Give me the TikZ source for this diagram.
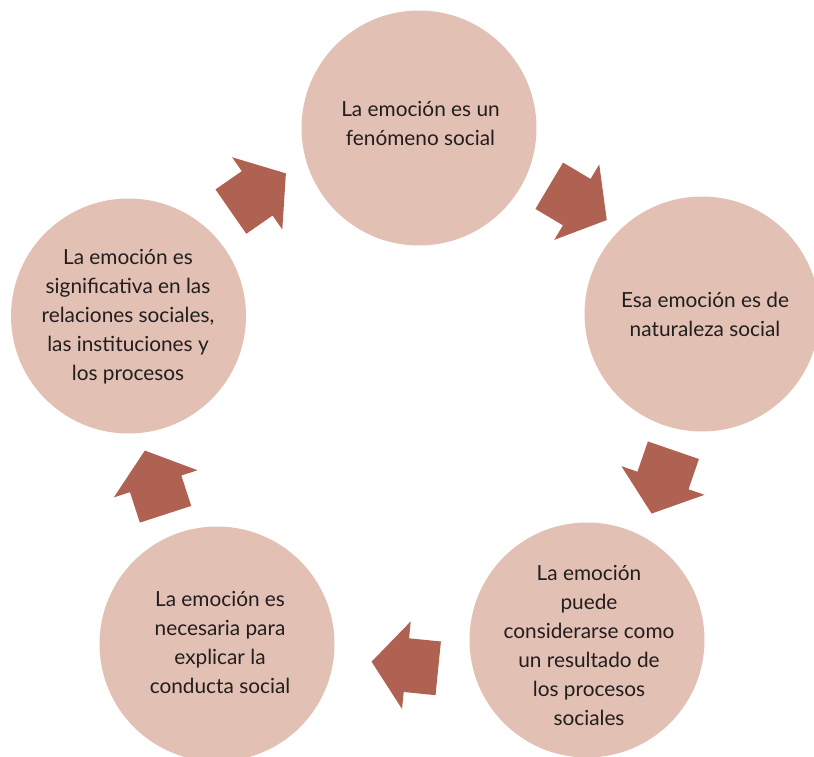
\documentclass[tikz,border=0pt]{standalone}
\usepackage{fontspec}
\setmainfont{Lato}
\definecolor{bubblec}{RGB}{226,192,180}
\definecolor{arrowc}{RGB}{176,98,82}
\definecolor{txtc}{RGB}{34,30,30}
\begin{document}
\begin{tikzpicture}[x=1pt,y=-1pt,
  bubble/.style={circle,fill=bubblec,draw=none,minimum size=235pt,inner sep=0pt},
  txt/.style={align=center,text=txtc,font=\fontsize{20.8pt}{29pt}\selectfont,inner sep=0pt},
  blockarrow/.style={fill=arrowc,draw=none}]
\useasboundingbox (0,0) rectangle (814,757);
% circles
\node[bubble] (c1) at (419,128) {};
\node[bubble] (c2) at (702,314) {};
\node[bubble] (c3) at (587,640) {};
\node[bubble] (c4) at (217,644) {};
\node[bubble] (c5) at (128.5,316) {};
% texts
\node[txt] (t1) at (420.5,123) {La emoción es un\\fenómeno social};
\node[txt] (t2) at (705,314.5) {Esa emoción es de\\naturaleza social};
\node[txt] (t3) at (589,645) {La emoción\\puede\\considerarse como\\un resultado de\\los procesos\\sociales};
\node[txt] (t4) at (220,642.5) {La emoción es\\necesaria para\\explicar la\\conducta social};
\node[txt] (t5) at (128,316.4) {La emoción es\\significativa en las\\relaciones sociales,\\las instituciones y\\los procesos};
% arrows
\coordinate (a1) at (258.4,192.5);
\coordinate (a2) at (578,202.9);
\coordinate (a3) at (662.5,481.9);
\coordinate (a4) at (404.9,665);
\coordinate (a5) at (155.2,482.4);
\foreach \p/\ang in {a1/34.8,a2/-30.8,a3/-109,a4/174.3,a5/108}{
  \fill[blockarrow,shift={(\p)},rotate=\ang]
    (-33.5,-27) -- (-1.5,-27) -- (-1.5,-44) -- (33.5,0) -- (-1.5,44) -- (-1.5,27) -- (-33.5,27) -- cycle;
}
\end{tikzpicture}
\end{document}
